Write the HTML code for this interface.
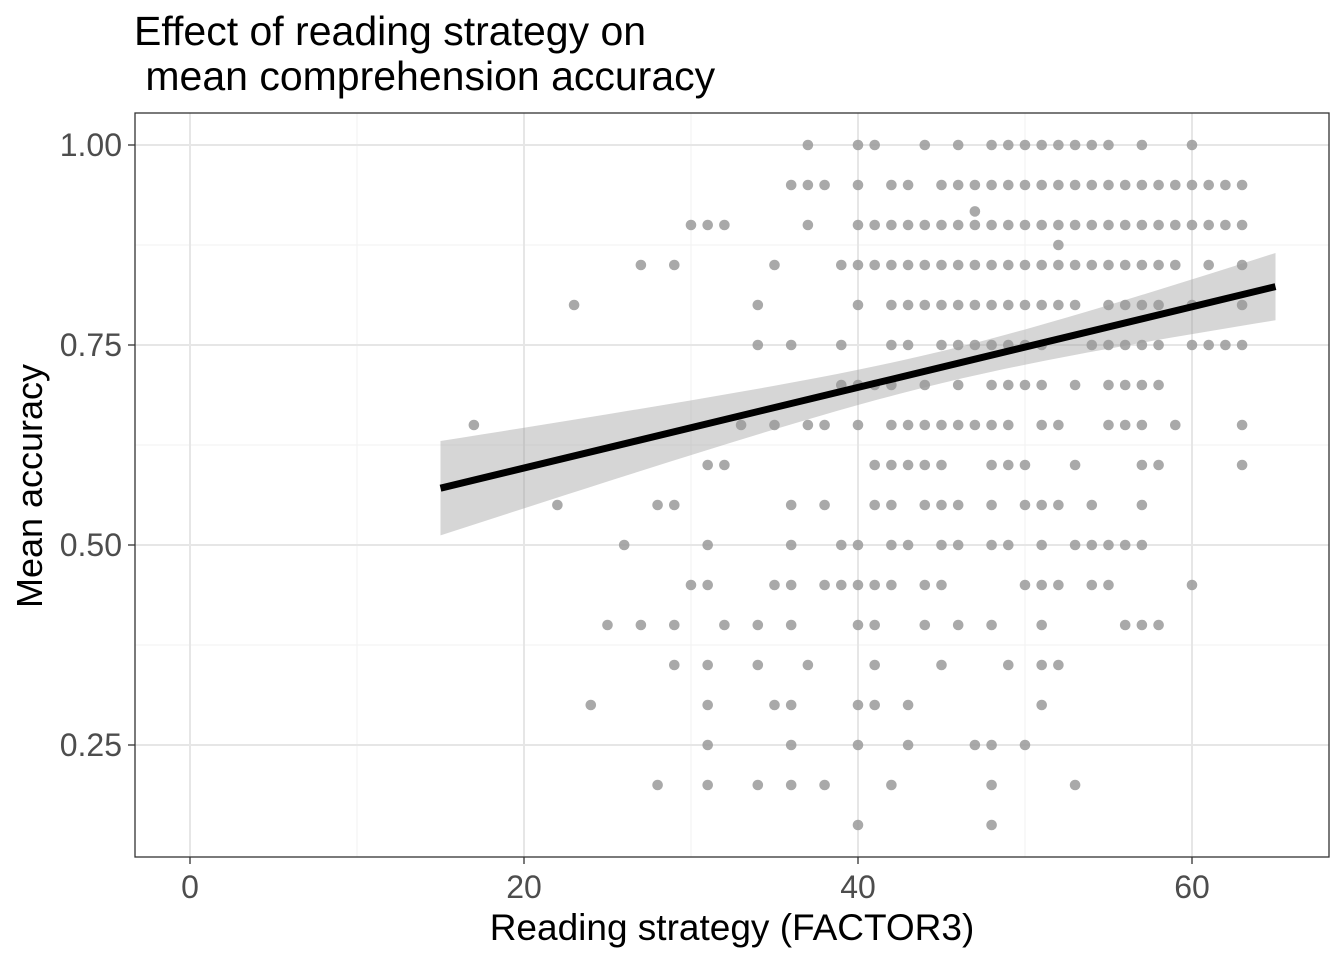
<!DOCTYPE html>
<html><head><meta charset="utf-8"><style>
body{margin:0;background:#fff;font-family:"Liberation Sans",Arial,sans-serif}
svg text{font-family:"Liberation Sans",Arial,sans-serif}
</style></head><body>
<svg id="chart" width="1344" height="960" xmlns="http://www.w3.org/2000/svg">
<rect width="1344" height="960" fill="#fff"/>
<text x="134" y="45" font-size="41" fill="#000">Effect of reading strategy on</text>
<text x="134" y="90" font-size="41" fill="#000" xml:space="preserve"> mean comprehension accuracy</text>
<g id="grid"></g><g id="pts"></g><g id="fit"></g>
<rect x="135" y="113" width="1194" height="744" fill="none" stroke="#333" stroke-width="1.3"/>
<g id="axes"></g>
<text x="732" y="940" font-size="37" text-anchor="middle" fill="#000">Reading strategy (FACTOR3)</text>
<text transform="translate(42,486) rotate(-90)" font-size="36" text-anchor="middle" fill="#000">Mean accuracy</text>
</svg>
<script>
const xTicks=[0,20,40,60];
const yTicks=[0.25,0.50,0.75,1.00];
const yTickLabels=["0.25","0.50","0.75","1.00"];
const xMinor=[10,30,50];
const yMinor=[0.375,0.625,0.875];
const rowY=[1.00,0.95,0.917,0.90,0.875,0.85,0.80,0.75,0.70,0.65,0.60,0.55,0.50,0.45,0.40,0.35,0.30,0.25,0.20,0.15];
const rowX=[
[37,40,41,44,46,48,49,50,51,52,53,54,55,57,60],
[36,37,38,40,42,43,45,46,47,48,49,50,51,52,53,54,55,56,57,58,59,60,61,62,63],
[47],
[30,31,32,37,40,41,42,43,44,45,46,47,48,49,50,51,52,53,54,55,56,57,58,59,60,61,62,63],
[52],
[27,29,35,39,40,41,42,43,44,45,46,47,48,49,50,51,52,53,54,55,56,57,58,59,61,63],
[23,34,40,42,43,44,45,46,47,48,49,50,51,52,53,55,56,57,58,60,63],
[34,36,39,42,43,45,46,47,48,49,50,51,54,55,56,57,58,60,61,62,63],
[39,40,41,42,44,46,48,49,50,51,53,55,56,57,58],
[17,33,35,37,38,40,42,43,44,45,46,47,48,49,51,52,55,56,57,59,63],
[31,32,41,42,43,44,45,48,49,50,53,57,58,63],
[22,28,29,36,38,41,42,44,45,46,48,50,51,52,54,57],
[26,31,36,39,40,42,43,45,46,48,49,51,53,54,55,56,57],
[30,31,35,36,38,39,40,41,42,44,45,50,51,52,54,55,60],
[25,27,29,32,34,36,40,41,44,46,48,51,56,57,58],
[29,31,34,37,41,45,49,51,52],
[24,31,35,36,40,41,43,51],
[31,36,40,43,47,48,50],
[28,31,34,36,38,42,48,53],
[40,48]];
const fitX=[15,65];
const fitY=[0.571,0.823];
const seMin=0.02, seSlope=0.00185, xMean=45;

const NS="http://www.w3.org/2000/svg";
const sx=v=>190+v*16.7;
const sy=v=>945-v*800;
function mk(tag,attrs,parent){const e=document.createElementNS(NS,tag);for(const k in attrs)e.setAttribute(k,attrs[k]);parent.appendChild(e);return e;}
const grid=document.getElementById('grid'),pts=document.getElementById('pts'),fit=document.getElementById('fit'),axes=document.getElementById('axes');
xMinor.forEach(v=>{const l=mk('line',{x1:sx(v),x2:sx(v),y1:113,y2:857,stroke:'#f2f2f2','stroke-width':1},grid);

});
yMinor.forEach(v=>{const l=mk('line',{x1:135,x2:1329,y1:sy(v),y2:sy(v),stroke:'#f2f2f2','stroke-width':1},grid);

});
xTicks.forEach(v=>{const l=mk('line',{x1:sx(v),x2:sx(v),y1:113,y2:857,stroke:'#e6e6e6','stroke-width':2},grid);


const t=mk('line',{x1:sx(v),x2:sx(v),y1:857,y2:864,stroke:'#333','stroke-width':1.3},axes);


const tx=mk('text',{x:sx(v),y:898,'font-size':32,'text-anchor':'middle',fill:'#4d4d4d'},axes);tx.textContent=String(v);

});
yTicks.forEach((v,i)=>{const l=mk('line',{x1:135,x2:1329,y1:sy(v),y2:sy(v),stroke:'#e6e6e6','stroke-width':2},grid);


const t=mk('line',{x1:128,x2:135,y1:sy(v),y2:sy(v),stroke:'#333','stroke-width':1.3},axes);


const tx=mk('text',{x:122,y:sy(v)+11,'font-size':32,'text-anchor':'end',fill:'#4d4d4d'},axes);tx.textContent=yTickLabels[i];

});
rowY.forEach((y,i)=>rowX[i].forEach(x=>{const c=mk('circle',{cx:sx(x),cy:sy(y),r:5.3,fill:'#9a9a9a','fill-opacity':0.85},pts);

}));
const N=40,up=[],lo=[];
for(let i=0;i<=N;i++){const x=fitX[0]+(fitX[1]-fitX[0])*i/N;const y=fitY[0]+(fitY[1]-fitY[0])*(x-fitX[0])/(fitX[1]-fitX[0]);
const h=Math.sqrt(seMin*seMin+Math.pow(seSlope*(x-xMean),2));up.push([sx(x),sy(y+h)]);lo.push([sx(x),sy(y-h)]);}
const poly=up.concat(lo.reverse()).map(p=>p.join(',')).join(' ');
const rib=mk('polygon',{points:poly,fill:'#999','fill-opacity':0.4},fit);


const ln=mk('line',{x1:sx(fitX[0]),y1:sy(fitY[0]),x2:sx(fitX[1]),y2:sy(fitY[1]),stroke:'#000','stroke-width':7},fit);


</script>
</body></html>
